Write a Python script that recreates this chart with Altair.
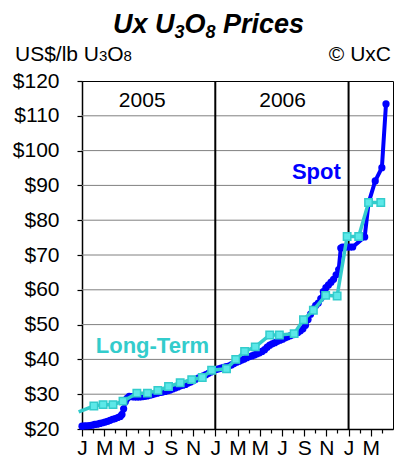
import altair as alt
import pandas as pd

# ---------------- data (month index: 0 = 1 Jan 2005) ----------------
spot_month = [0.0, 0.23, 0.46, 0.69, 0.92, 1.15, 1.38, 1.61, 1.84, 2.07, 2.30, 2.53, 2.76, 2.99,
              3.22, 3.45, 3.60, 3.75, 3.90, 4.05, 4.25, 4.48, 4.71, 4.94, 5.17, 5.40, 5.63, 5.86,
              6.09, 6.32, 6.55, 6.78, 7.01, 7.24, 7.47, 7.70, 7.93, 8.16, 8.39, 8.62, 8.85, 9.08,
              9.31, 9.54, 9.77, 10.00, 10.23, 10.46, 10.69, 10.92, 11.15, 11.38, 11.61, 11.84,
              12.07, 12.30, 12.53, 12.76, 12.99, 13.22, 13.45, 13.68, 13.91, 14.14, 14.37, 14.60,
              14.83, 15.06, 15.29, 15.52, 15.75, 15.98, 16.21, 16.44, 16.67, 16.90, 17.13, 17.36,
              17.59, 17.82, 18.05, 18.28, 18.51, 18.74, 18.97, 19.20, 19.43, 19.66, 19.89, 20.12,
              20.35, 20.58, 20.81, 21.04, 21.27, 21.50, 21.73, 21.96, 22.19, 22.42, 22.65, 22.88,
              23.11, 23.30, 23.45, 23.68, 23.91, 24.14, 24.37, 25.45, 25.80, 26.40, 27.00, 27.37]
spot_price = [20.8, 20.9, 20.9, 21.0, 21.1, 21.3, 21.4, 21.6, 21.8, 22.0, 22.2, 22.5, 22.8, 23.0,
              23.3, 23.6, 24.2, 25.8, 27.8, 28.8, 29.4, 29.3, 29.2, 29.2, 29.2, 29.3, 29.4, 29.5,
              29.7, 29.9, 30.1, 30.3, 30.5, 30.6, 30.8, 31.0, 31.2, 31.5, 31.8, 32.1, 32.4, 32.6,
              32.8, 33.2, 33.5, 33.9, 34.3, 34.6, 35.0, 35.3, 35.6, 36.0, 36.4, 36.8,
              37.1, 37.3, 37.5, 37.7, 37.9, 38.1, 38.4, 38.8, 39.2, 39.5, 39.8, 40.1,
              40.5, 40.8, 41.0, 41.3, 41.6, 41.9, 42.3, 42.8, 43.5, 44.1, 44.5, 44.8,
              45.2, 45.5, 45.8, 46.2, 46.5, 46.8, 47.1, 47.4, 47.7, 48.2, 48.8, 49.8,
              51.5, 53.0, 54.5, 55.5, 56.2, 57.5, 59.5, 60.6, 61.4, 62.2, 63.0, 64.3,
              65.8, 72.0, 72.3, 72.3, 72.3, 72.3, 72.3, 75.2, 85.0, 91.3, 95.1, 113.4]

lt_month = [-0.3, 1.07, 1.90, 2.79, 3.69, 4.94, 5.89, 6.83, 7.79, 8.84, 9.88, 10.83, 11.67, 13.01,
            13.84, 14.64, 15.60, 16.90, 17.77, 19.10, 19.94, 20.83, 21.94, 22.97, 23.87, 24.91,
            25.80, 26.90]
lt_price = [24.9, 26.6, 27.0, 27.0, 28.0, 30.3, 30.3, 31.1, 32.2, 33.3, 34.2, 34.8, 36.9, 37.3,
            40.0, 42.3, 43.6, 47.0, 47.0, 47.4, 51.4, 54.1, 58.4, 58.2, 75.3, 75.3,
            85.1, 85.1]

month_letters = ["J", "F", "M", "A", "M", "J", "J", "A", "S", "O", "N", "D"]
month_ticks = list(range(0, 28))
price_ticks = [20, 30, 40, 50, 60, 70, 80, 90, 100, 110, 120]
grid_prices = [30, 40, 50, 60, 70, 80, 90, 100, 110]
year_boundaries = [12, 24]
year_names = ["2005", "2006"]
year_name_month = [5.42, 18.06]
year_name_price = [112.6, 112.6]
series_names = ["Spot", "Long-Term"]
series_name_month = [21.1, 6.34]
series_name_price = [91.8, 41.9]

FONT = "Liberation Sans"
BLUE = "#0000FF"
TURQ = "#33CCCC"

spot_df = pd.DataFrame({"month": spot_month, "price": spot_price})
lt_df = pd.DataFrame({"month": lt_month, "price": lt_price})
lt_mark_df = lt_df.iloc[1:]
grid_df = pd.DataFrame({"price": grid_prices})
bound_df = pd.DataFrame({"month": year_boundaries})
year_df = pd.DataFrame({"month": year_name_month, "price": year_name_price, "label": year_names})
spot_lbl_df = pd.DataFrame({"month": [series_name_month[0]], "price": [series_name_price[0]],
                            "label": [series_names[0]]})
lt_lbl_df = pd.DataFrame({"month": [series_name_month[1]], "price": [series_name_price[1]],
                          "label": [series_names[1]]})

xs = alt.Scale(domain=[0, 28], nice=False, zero=False)
ys = alt.Scale(domain=[20, 120], nice=False, zero=False)

letters_js = "[" + ",".join("'%s'" % c for c in month_letters) + "]"
x_axis = alt.Axis(
    values=month_ticks,
    labelExpr="datum.value % 2 == 0 ? " + letters_js + "[datum.value % 12] : ''",
    tickSize={"condition": {"test": "datum.value % 2 == 0", "value": 7}, "value": 4},
    labelFlush=False,
    labelOverlap=False,
    labelFontSize=21,
    labelBaseline="alphabetic",
    labelPadding=18,
    grid=False,
    title=None,
)
y_axis = alt.Axis(
    values=price_ticks,
    labelExpr="'$' + datum.value",
    tickSize=5,
    labelFontSize=21,
    labelPadding=18,
    grid=False,
    title=None,
)

X = alt.X("month:Q", scale=xs, axis=x_axis)
Y = alt.Y("price:Q", scale=ys, axis=y_axis)

grid = alt.Chart(grid_df).mark_rule(color="#808080", strokeWidth=1).encode(y=Y)
bounds = alt.Chart(bound_df).mark_rule(color="black", strokeWidth=2).encode(x=X)

spot_line = alt.Chart(spot_df).mark_line(color=BLUE, strokeWidth=4).encode(x=X, y=Y)
spot_pts = alt.Chart(spot_df).mark_circle(color=BLUE, size=52, opacity=1).encode(x=X, y=Y)
lt_line = alt.Chart(lt_df).mark_line(color=TURQ, strokeWidth=3.5).encode(x=X, y=Y)
lt_pts = alt.Chart(lt_mark_df).mark_square(fill="#5CE8E8", stroke=TURQ, strokeWidth=1.5,
                                           size=55, opacity=1).encode(x=X, y=Y)

year_txt = alt.Chart(year_df).mark_text(font=FONT, fontSize=21, color="black",
                                        baseline="alphabetic", align="center").encode(
    x=X, y=Y, text="label:N")
spot_txt = alt.Chart(spot_lbl_df).mark_text(font=FONT, fontSize=22, fontWeight="bold", color=BLUE,
                                            baseline="alphabetic", align="center").encode(
    x=X, y=Y, text="label:N")
lt_txt = alt.Chart(lt_lbl_df).mark_text(font=FONT, fontSize=22, fontWeight="bold", color=TURQ,
                                        baseline="alphabetic", align="center").encode(
    x=X, y=Y, text="label:N")


def header(txt, x, y, size, align="left", weight="normal", style="normal"):
    return alt.Chart(pd.DataFrame({"t": [txt]})).mark_text(
        font=FONT, fontSize=size, fontWeight=weight, fontStyle=style, color="black",
        align=align, baseline="alphabetic").encode(x=alt.value(x), y=alt.value(y), text="t:N")


# title "Ux U3O8 Prices" with subscript 3 and 8 (x relative to plot left edge)
TX = 31
TY = -48
t1 = header("Ux U", TX, TY, 27, weight="bold", style="italic")
t2 = header("3", TX + 61.5, TY + 5, 18, weight="bold", style="italic")
t3 = header("O", TX + 71.5, TY, 27, weight="bold", style="italic")
t4 = header("8", TX + 92.5, TY + 5, 18, weight="bold", style="italic")
t5 = header("Prices", TX + 110, TY, 27, weight="bold", style="italic")
# unit line "US$/lb U3O8" with small 3 and 8
UX = -67
u1 = header("US$/lb U", UX, -20, 21)
u2 = header("3", UX + 84, -20, 15)
u3 = header("O", UX + 92.3, -20, 21)
u4 = header("8", UX + 108.6, -20, 15)
copy = header("\u00a9 UxC", 309, -20, 21, align="right")

chart = alt.layer(
    grid, bounds, spot_line, spot_pts, lt_line, lt_pts, year_txt, spot_txt, lt_txt,
    t1, t2, t3, t4, t5, u1, u2, u3, u4, copy,
).properties(
    width=311, height=348,
    padding={"left": 74, "top": 73, "right": 1, "bottom": 31},
    autosize=alt.AutoSizeParams(type="none"),
).configure_view(
    stroke="black", strokeWidth=1,
).configure_axis(
    domainColor="black", tickColor="black", labelColor="black", labelFont=FONT,
    domainWidth=1.5, tickWidth=1.2,
)

chart.save("out.html", embed_options={"renderer": "svg", "actions": False})
